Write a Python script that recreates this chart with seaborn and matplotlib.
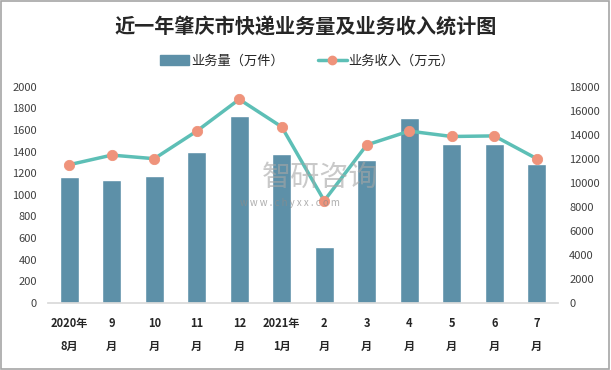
import numpy as np
import matplotlib
matplotlib.use("Agg")
import matplotlib.pyplot as plt
import seaborn as sns
from matplotlib.patches import Patch, Rectangle
from matplotlib.lines import Line2D

# data
months = ["2020年\n8月", "9\n月", "10\n月", "11\n月", "12\n月", "2021年\n1月",
          "2\n月", "3\n月", "4\n月", "5\n月", "6\n月", "7\n月"]
volume = [1165, 1138, 1175, 1398, 1729, 1379, 514, 1324, 1710, 1469, 1469, 1284]      # 万件
revenue = [11500, 12300, 12000, 14300, 16950, 14650, 8500, 13150, 14300, 13850, 13900, 12000]  # 万元

bar_color = "#5D90A8"
line_color = "#5DBFB6"
dot_color = "#EF937B"

sns.set_theme(style="white")
plt.rcParams["font.family"] = ["Noto Sans CJK SC", "DejaVu Sans"]

fig = plt.figure(figsize=(6.11, 3.70), dpi=100)
ax = fig.add_axes([48 / 611, 1 - 302.7 / 370, 510 / 611, 216 / 370])

sns.barplot(x=months, y=volume, color=bar_color, width=0.45, saturation=1, ax=ax)
ax.set_ylim(0, 2000)
ax.set_yticks(np.arange(0, 2001, 200))
ax.set_xlim(-0.5, len(months) - 0.5)

ax2 = ax.twinx()
xpos = np.arange(len(months))
sns.lineplot(x=xpos, y=revenue, color=line_color, linewidth=2.5, ax=ax2)
sns.scatterplot(x=xpos, y=revenue, color=dot_color, s=55, edgecolor=dot_color, zorder=5, ax=ax2)
ax2.set_ylim(0, 18000)
ax2.set_yticks(np.arange(0, 18001, 2000))

for a in (ax, ax2):
    for s in a.spines.values():
        s.set_visible(False)
    a.set_xlabel("")
    a.set_ylabel("")
    a.tick_params(axis="y", length=0, labelsize=8, colors="#404040", pad=8)
ax.spines["bottom"].set_visible(True)
ax.spines["bottom"].set_color("#D9D9D9")
ax.tick_params(axis="x", length=0, pad=10)
for lbl in ax.get_xticklabels():
    lbl.set_fontsize(8)
    lbl.set_fontweight("bold")
    lbl.set_color("#262626")
    lbl.set_linespacing(2.0)

# watermark
fig.text(262 / 611, 1 - 186 / 370, "智研咨询", fontsize=21, color="#A6A6A6", alpha=0.6, zorder=0)
fig.text(240 / 611, 1 - 206 / 370, "w w w . c h y x x . c o m", fontsize=7, color="#8C8C8C", alpha=0.7)

fig.suptitle("近一年肇庆市快递业务量及业务收入统计图", fontsize=14.5, fontweight="bold",
             color="#262626", y=1 - 27 / 370, va="center")

handles = [Patch(color=bar_color),
           Line2D([0], [0], color=line_color, linewidth=2.5, marker="o",
                  markerfacecolor=dot_color, markeredgecolor=dot_color, markersize=6)]
fig.legend(handles, ["业务量（万件）", "业务收入（万元）"], loc="center",
           bbox_to_anchor=(0.503, 1 - 61 / 370), ncol=2, frameon=False, fontsize=9.5,
           handlelength=2.2, handletextpad=0.1, columnspacing=2.6)

fig.patches.append(Rectangle((0.002, 0.004), 0.995, 0.992, transform=fig.transFigure,
                             fill=False, edgecolor="#A6A6A6", linewidth=1.2))

fig.savefig("out.png", dpi=100)
